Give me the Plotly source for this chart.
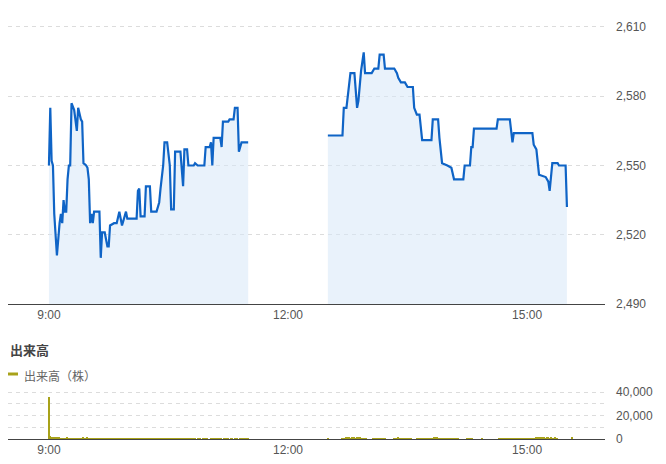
import plotly.graph_objects as go
from datetime import datetime, timedelta

DAY = "2024-01-01"

# ---- price data (minutes after session start, price) ----
am_minutes = [0, 1, 2, 3, 4, 6, 8, 9, 10, 11, 12, 13, 14, 15, 16, 17, 19, 21, 22, 24, 25, 26, 28, 29,
              30, 31, 32, 33, 34, 38, 39, 40, 42, 44, 45, 46, 49, 51, 53, 55, 58, 59, 66, 67, 68, 69,
              72, 73, 76, 77, 81, 83, 84, 86, 87, 89, 91, 92, 94, 95, 99, 101, 102, 104, 105, 109,
              110, 112, 117, 118, 121, 122, 123, 124, 129, 130, 131, 135, 136, 139, 140, 142, 143,
              144, 145, 150]
am_prices = [2550, 2575, 2552, 2550, 2529, 2511, 2525, 2529, 2525, 2535, 2530, 2530, 2544, 2550, 2550,
             2577, 2574, 2565, 2575, 2570, 2569, 2551, 2550, 2549, 2544, 2525, 2529, 2525, 2530, 2530,
             2510, 2521, 2521, 2515, 2515, 2524, 2525, 2525, 2530, 2524, 2530, 2527, 2527, 2539, 2540,
             2528, 2528, 2541, 2541, 2530, 2530, 2534, 2540, 2550, 2560, 2560, 2550, 2531, 2531, 2556,
             2556, 2541, 2557, 2557, 2550, 2550, 2551, 2550, 2550, 2558, 2558, 2560, 2550, 2562, 2562,
             2558, 2569, 2569, 2570, 2570, 2575, 2575, 2556, 2558, 2560, 2560]

pm_minutes = [0, 11, 12, 14, 16, 17, 20, 22, 23, 25, 27, 28, 33, 35, 38, 39, 42, 43, 50, 52, 53, 55,
              58, 60, 64, 65, 67, 69, 71, 78, 79, 83, 84, 86, 90, 93, 95, 102, 103, 107, 108, 109,
              110, 127, 128, 137, 139, 140, 154, 155, 157, 159, 164, 166, 167, 169, 173, 174, 179, 180]
pm_prices = [2563, 2563, 2575, 2575, 2585, 2590, 2590, 2575, 2578, 2591, 2599, 2590, 2590, 2592, 2592,
             2598, 2598, 2592, 2592, 2590, 2588, 2586, 2586, 2584, 2584, 2575, 2572, 2572, 2561, 2561,
             2570, 2570, 2562, 2551, 2550, 2549, 2544, 2544, 2550, 2550, 2558, 2558, 2566, 2566, 2570,
             2570, 2560, 2564, 2564, 2559, 2557, 2546, 2545, 2543, 2539, 2551, 2551, 2550, 2550, 2532]

# ---- volume data (shares per minute) ----
am_volume = [36000, 2500, 2200, 2400, 2000, 1800, 2100, 1900, 1600, 1500,
             1400, 1500, 1300, 1200, 1600, 1400, 1200, 1500, 1300, 1100,
             1200, 1000, 1100, 1300, 1000, 1200, 1800, 1500, 1300, 1600,
             1400, 1200, 1100, 1000, 900, 1100, 1000, 800, 900, 1000,
             800, 900, 700, 800, 1000, 900, 700, 800, 600, 700,
             800, 700, 900, 600, 800, 700, 1100, 900, 800, 700,
             600, 800, 700, 900, 800, 1000, 700, 600, 800, 700,
             900, 1200, 800, 700, 600, 800, 700, 900, 600, 700,
             800, 600, 700, 900, 1000, 800, 700, 600, 800, 700,
             900, 1100, 800, 700, 600, 0, 700, 800, 900, 600,
             700, 800, 600, 700, 0, 800, 700, 600, 900, 700,
             600, 0, 700, 800, 600, 0, 700, 600, 800, 700,
             0, 0, 600, 700, 800, 1200, 900, 700, 800, 600,
             700, 0, 600, 700, 600, 800, 0, 700, 600, 0,
             700, 800, 600, 0, 700, 600, 800, 700, 600, 900,
             1500]
pm_volume = [1500, 0, 0, 0, 0, 0, 0, 0, 0, 0,
             0, 1200, 1000, 1500, 1800, 2000, 1600, 1400, 1800, 2200,
             1900, 1500, 1700, 2000, 1600, 1300, 1500, 1200, 1400, 1100,
             0, 0, 0, 0, 1200, 1000, 1300, 1100, 900, 1000, 1200, 800,
             1000, 900, 0, 0, 0, 0, 0, 0, 1000, 1200, 1500, 1800,
             1400, 1100, 1000, 1200, 900, 1100, 1000, 800, 1200, 900,
             0, 0, 0, 1000, 1100, 900, 1200, 1000, 800, 1100,
             1000, 900, 1200, 1000, 1100, 1300, 1800, 1600, 1900, 1400,
             1200, 1000, 900, 1100, 1000, 800, 1200, 900, 1000, 1100,
             1000, 900, 800, 1000, 1200, 0, 0, 0, 0, 0,
             0, 1000, 1200, 900, 1100, 1000, 0, 0, 0, 0,
             0, 0, 1100, 0, 0, 0, 0, 0, 0, 0,
             0, 0, 0, 0, 0, 1000, 900, 1100, 1000, 1200,
             900, 1000, 800, 1100, 900, 1000, 1200, 1100, 900, 1000,
             1100, 900, 1000, 1200, 800, 1000, 900, 1100, 1000, 1200,
             1300, 1500, 1400, 1800, 1600, 1500, 1700, 1900, 1400, 1600,
             1500, 1800, 1600, 1400, 1700, 1500, 1300, 1600, 1400, 1200,
             0, 0, 0, 0, 0, 0, 0, 0, 0, 0, 2000]

price_ticks = [2490, 2520, 2550, 2580, 2610]
vol_ticks = [0, 20000, 40000]
time_ticks = ["09:00", "12:00", "15:00"]

AM_START = datetime.fromisoformat(f"{DAY} 09:00")
PM_START = datetime.fromisoformat(f"{DAY} 12:30")


def to_times(start, mins):
    return [start + timedelta(minutes=m) for m in mins]


LINE = "#0f64c6"
FILL = "rgba(215,232,247,0.55)"
OLIVE = "#a8a21a"
GRID = "#dcdcdc"
DASH = "4px,4px"
AXIS = "#444444"
TXT = "#555555"

fig = go.Figure()
for start, mins, prices in [(AM_START, am_minutes, am_prices), (PM_START, pm_minutes, pm_prices)]:
    fig.add_trace(go.Scatter(
        x=to_times(start, mins), y=prices, mode="lines",
        line=dict(color=LINE, width=2.2, shape="linear"),
        fill="tozeroy", fillcolor=FILL, showlegend=False,
        xaxis="x", yaxis="y", hoverinfo="skip"))

vol_x = to_times(AM_START, range(len(am_volume))) + to_times(PM_START, range(len(pm_volume)))
vol_y = am_volume + pm_volume
fig.add_trace(go.Bar(
    x=vol_x, y=vol_y, width=60000, marker=dict(color=OLIVE, line=dict(width=0)),
    showlegend=False, xaxis="x2", yaxis="y2", hoverinfo="skip"))

H = 464.0
xr = [f"{DAY} 08:29:10", f"{DAY} 15:58:40"]
tickvals = [f"{DAY} {t}" for t in time_ticks]
ticktext = [t.lstrip("0") for t in time_ticks]

common_x = dict(range=xr, type="date", tickvals=tickvals, ticktext=ticktext,
                showgrid=False, showline=True, linecolor=AXIS, linewidth=1,
                ticks="", tickfont=dict(size=12, color=TXT, family="Liberation Sans, Arial"),
                zeroline=False, fixedrange=True, automargin=False)

# price axis: 2490 at y=304px, 2610 at y=27px; range extended slightly above so top grid shows
P_PX = (304 - 27) / 120.0
V_PX = (439 - 392) / 40000.0
fig.update_layout(
    width=666, height=464,
    margin=dict(l=8, r=61, t=0, b=0),
    paper_bgcolor="white", plot_bgcolor="white",
    bargap=0,
    xaxis=dict(**common_x, domain=[0, 1], anchor="y"),
    xaxis2=dict(**common_x, domain=[0, 1], anchor="y2"),
    yaxis=dict(domain=[1 - 304 / H, 1 - (27 - 3 * P_PX) / H], range=[2490, 2613], side="right",
               tickvals=price_ticks, ticktext=[f"{v:,}" for v in price_ticks],
               showgrid=True, gridcolor=GRID, griddash=DASH, gridwidth=1,
               zeroline=False, showline=False, ticks="", ticklabelstandoff=10,
               tickfont=dict(size=12, color=TXT, family="Liberation Sans, Arial"),
               anchor="x", automargin=False, fixedrange=True),
    yaxis2=dict(domain=[1 - 439 / H, 1 - (392 - 2000 * V_PX) / H], range=[0, 42000], side="right",
                tickvals=vol_ticks, ticktext=[f"{v:,}" for v in vol_ticks],
                showgrid=True, gridcolor=GRID, griddash=DASH, gridwidth=1,
                minor=dict(dtick=10000, tick0=0, showgrid=True, gridcolor=GRID, griddash=DASH, gridwidth=1),
                zeroline=False, showline=False, ticks="", ticklabelstandoff=10,
                tickfont=dict(size=12, color=TXT, family="Liberation Sans, Arial"),
                anchor="x2", automargin=False, fixedrange=True),
)

fig.add_annotation(text="<b>出来高</b>", xref="paper", yref="paper", x=0, y=1 - 349 / H,
                   xanchor="left", yanchor="middle", showarrow=False,
                   font=dict(size=13, color="#444444", family="Noto Sans CJK JP"))
fig.add_annotation(text="出来高（株）", xref="paper", yref="paper", x=14 / 597, y=1 - 375 / H,
                   xanchor="left", yanchor="middle", showarrow=False,
                   font=dict(size=12, color="#666666", family="Noto Sans CJK JP"))
fig.add_shape(type="line", xref="paper", yref="paper", x0=0, x1=10 / 597,
              y0=1 - 374 / H, y1=1 - 374 / H, line=dict(color=OLIVE, width=3))

fig.write_html("out.html",
               config={"displayModeBar": False},
               post_script="document.body.style.margin='0';document.body.style.overflow='hidden';")
